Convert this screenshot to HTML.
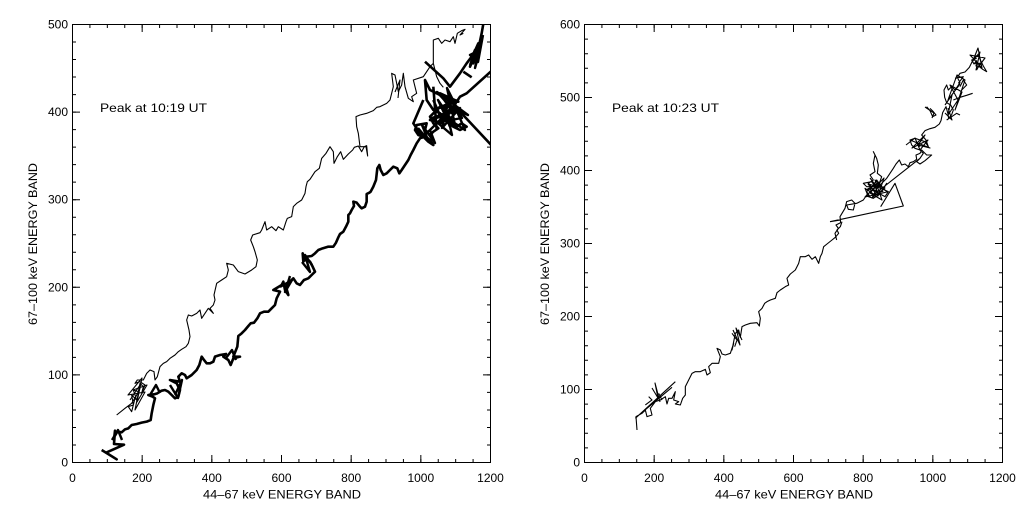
<!DOCTYPE html>
<html><head><meta charset="utf-8"><style>
html,body{margin:0;padding:0;background:#fff;}
svg{display:block;}
text{font-family:"Liberation Sans",sans-serif;font-size:12px;fill:#000;}
</style></head><body>
<svg width="1024" height="512" viewBox="0 0 1024 512" xmlns="http://www.w3.org/2000/svg">
<rect width="1024" height="512" fill="#fff"/>
<defs>
<clipPath id="cl"><rect x="72" y="24" width="419" height="439"/></clipPath>
<clipPath id="cr"><rect x="584" y="24" width="419" height="439"/></clipPath>
</defs>

<!-- LEFT PANEL AXES -->
<g stroke="#000" fill="none">
<rect x="72.5" y="24.5" width="418" height="438" stroke-width="1"/>
<line x1="72" y1="461" x2="491" y2="461" stroke-width="4" stroke-dasharray="1 16.4167"/>
<line x1="72" y1="459" x2="491" y2="459" stroke-width="8" stroke-dasharray="1 68.667"/>
<line x1="72" y1="26" x2="491" y2="26" stroke-width="4" stroke-dasharray="1 16.4167"/>
<line x1="72" y1="28" x2="491" y2="28" stroke-width="8" stroke-dasharray="1 68.667"/>
<line x1="74" y1="463" x2="74" y2="24" stroke-width="4" stroke-dasharray="1 16.52"/>
<line x1="76" y1="463" x2="76" y2="24" stroke-width="8" stroke-dasharray="1 86.6"/>
<line x1="489" y1="463" x2="489" y2="24" stroke-width="4" stroke-dasharray="1 16.52"/>
<line x1="487" y1="463" x2="487" y2="24" stroke-width="8" stroke-dasharray="1 86.6"/>
</g>
<g text-anchor="middle">
<text x="72.5" y="482">0</text>
<text x="142.2" y="482">200</text>
<text x="211.8" y="482">400</text>
<text x="281.5" y="482">600</text>
<text x="351.2" y="482">800</text>
<text x="420.8" y="482">1000</text>
<text x="490.5" y="482">1200</text>
</g>
<g text-anchor="end">
<text x="68" y="466.5">0</text>
<text x="68" y="378.9">100</text>
<text x="68" y="291.3">200</text>
<text x="68" y="203.7">300</text>
<text x="68" y="116.1">400</text>
<text x="68" y="28.5">500</text>
</g>
<text x="203" y="498.5" textLength="158" lengthAdjust="spacingAndGlyphs">44–67 keV ENERGY BAND</text>
<text transform="translate(37,244) rotate(-90)" text-anchor="middle" textLength="162" lengthAdjust="spacingAndGlyphs">67–100 keV ENERGY BAND</text>
<text x="100" y="112" textLength="107" lengthAdjust="spacingAndGlyphs">Peak at 10:19 UT</text>

<!-- LEFT PANEL DATA -->
<g clip-path="url(#cl)" fill="none" stroke="#000">
<g transform="scale(0.33333)">
<path vector-effect="non-scaling-stroke" stroke-width="1.1" stroke-linejoin="round" d="M350,1245 L375,1225 L395,1210 L410,1185 L420,1165 L405,1195 L395,1235 L385,1220 L400,1215 L395,1185 L410,1200 L400,1170 L415,1175 L420,1150 L430,1160 L425,1180 L435,1155 L420,1145 L405,1150 L412,1140 L430,1140 L440,1120 L450,1110 L462,1115 L465,1140 L472,1130 L480,1100 L490,1090 L500,1085 L510,1075 L525,1065 L535,1055 L545,1048 L558,1040 L565,1030 L570,1010 L567,990 L560,960 L565,945 L575,948 L590,940 L600,930 L605,955 L615,940 L625,925 L640,940 L630,925 L640,915 L645,900 L642,885 L650,850 L665,840 L680,830 L685,810 L680,790 L700,795 L715,815 L735,822 L755,810 L768,800 L772,780 L765,755 L760,740 L752,720 L758,705 L780,698 L785,690 L795,665 L800,690 L815,680 L828,692 L835,680 L850,690 L858,665 L862,655 L875,650 L880,620 L890,610 L905,600 L915,580 L918,560 L922,545 L930,538 L945,515 L958,505 L965,475 L978,460 L990,440 L1000,455 L1002,490 L1012,470 L1022,455 L1030,478 L1045,462 L1058,450 L1063,442 L1075,438 L1085,455 L1093,440 L1100,437 L1103,468 L1098,440 L1080,440 L1075,400 L1070,380 L1068,350 L1080,345 L1100,340 L1120,332 L1130,322 L1140,320 L1160,310 L1170,300 L1180,260 L1175,220 L1185,225 L1195,275 L1205,255 L1210,220 L1215,260 L1225,295 L1240,305 L1235,290 L1250,280 L1240,240 L1270,230 L1290,200 L1300,190 L1300,120 L1315,115 L1325,130 L1335,120 L1350,125 L1360,110 L1365,130 L1372,100 L1385,92 L1395,88 L1380,105 L1390,100 M1300,190 L1310,230 L1320,250 L1330,262"/>
<path vector-effect="non-scaling-stroke" stroke-width="2.6" stroke-linejoin="round" d="M305,1350 L350,1378 L318,1358 L372,1334 L342,1332 L345,1292 L343,1310 L352,1295 L365,1297 L375,1288 L385,1285 L395,1275 L410,1272 L425,1268 L440,1265 L452,1260 L455,1240 L460,1215 L465,1195 L458,1190 L445,1185 L462,1183 L472,1180 L485,1172 L495,1170 L505,1175 L515,1185 L525,1195 L535,1190 L540,1170 L530,1150 L510,1140 L540,1145 L535,1130 L545,1120 L555,1125 L560,1135 L575,1125 L590,1110 L598,1095 L605,1070 L612,1080 L620,1090 L630,1090 L640,1085 L645,1070 L660,1065 L678,1062 L670,1070 L685,1080 L692,1095 L700,1075 L720,1070 L700,1070 L712,1040 L715,1008 L725,1000 L735,990 L745,978 L752,970 L762,968 L772,955 L780,940 L792,935 L805,935 L815,925 L825,915 L830,895 L840,875 L820,870 L845,855 L850,845 L855,870 L865,885 L858,860 L870,845 L880,835 L890,850 L900,855 L912,840 L925,835 L935,825 L945,815 L938,800 L930,785 L915,780 L908,760 L910,785 L920,770 L935,768 L945,760 L955,750 L968,745 L985,740 L1000,740 L1008,728 L1015,712 L1020,702 L1030,695 L1038,680 L1045,665 L1045,645 L1050,640 L1055,630 L1062,618 L1060,605 L1070,608 L1080,620 L1085,625 L1095,620 L1100,605 L1100,582 L1108,578 L1112,575 L1120,560 L1128,540 L1132,505 L1138,495 L1142,510 L1150,525 L1160,520 L1170,510 L1180,500 L1192,505 L1198,520 L1205,510 L1215,495 L1225,480 L1232,465 L1240,450 L1250,430 L1260,415 L1275,408 L1290,420 L1300,435 L1285,425 L1270,410 L1255,405 L1245,390 L1250,375 L1280,370 L1275,390 L1290,405 L1300,395 L1315,385 L1300,370 L1290,350 L1305,335 L1320,320 L1340,315 L1350,300 L1310,280 L1290,270 L1275,240 L1280,300 L1300,330 L1320,340 L1340,365 L1360,380 L1380,390 L1400,380 L1385,370 L1370,380 L1345,360 L1330,345 L1360,320 L1380,290 L1400,280 L1480,208 M1380,335 L1480,442 M1275,185 L1330,235 L1350,260 L1380,220 L1400,190 L1415,170 L1430,155 L1410,200 L1425,150 L1415,175 L1435,130 L1420,190 L1440,140 L1430,170 L1445,100 L1452,60 M1300,260 L1310,390 M1270,300 L1240,370 L1270,415 M1340,300 L1375,305 L1320,280 L1360,340 L1330,330 L1350,380 M1390,215 L1415,232 M1300,300 L1330,370 L1290,360 L1350,340"/>
</g>
<!-- extra scribbles (orig coords) -->
<path stroke-width="1.1" stroke-linejoin="round" d="M130,400 L140,385 L135,410 L145,392 L128,395 L142,378 L137,402 L147,385 L133,390 M395,92 L400,80 L398,98"/>
<path stroke-width="2.4" stroke-linejoin="round" d="M430,130 L445,115 L438,100 L455,125 L447,88 L462,118 L440,122 L458,100 L435,110 L465,130 L450,95 L442,128 L460,108 L432,118 L452,135 L445,105 L468,115 L437,92 L455,112 M470,65 L478,45 L473,60 L481,40 L475,68 L480,50 L470,55 L478,62 L483,35 M418,128 L428,140 L422,125 L435,143 L430,130 L420,138 M175,395 L182,380 L178,398 L170,385 M280,287 L292,280 L285,292 L290,276 M302,262 L310,272 L305,255 L312,265 M112,440 L118,430 L122,440 M150,395 L156,385 L160,393 M226,358 L232,350 L236,360"/>
</g>

<!-- RIGHT PANEL AXES -->
<g stroke="#000" fill="none">
<rect x="584.5" y="24.5" width="418" height="438" stroke-width="1"/>
<line x1="584" y1="461" x2="1003" y2="461" stroke-width="4" stroke-dasharray="1 16.4167"/>
<line x1="584" y1="459" x2="1003" y2="459" stroke-width="8" stroke-dasharray="1 68.667"/>
<line x1="584" y1="26" x2="1003" y2="26" stroke-width="4" stroke-dasharray="1 16.4167"/>
<line x1="584" y1="28" x2="1003" y2="28" stroke-width="8" stroke-dasharray="1 68.667"/>
<line x1="586" y1="463" x2="586" y2="24" stroke-width="4" stroke-dasharray="1 13.6"/>
<line x1="588" y1="463" x2="588" y2="24" stroke-width="8" stroke-dasharray="1 72"/>
<line x1="1001" y1="463" x2="1001" y2="24" stroke-width="4" stroke-dasharray="1 13.6"/>
<line x1="999" y1="463" x2="999" y2="24" stroke-width="8" stroke-dasharray="1 72"/>
</g>
<g text-anchor="middle">
<text x="584.5" y="482">0</text>
<text x="654.2" y="482">200</text>
<text x="723.8" y="482">400</text>
<text x="793.5" y="482">600</text>
<text x="863.2" y="482">800</text>
<text x="932.8" y="482">1000</text>
<text x="1002.5" y="482">1200</text>
</g>
<g text-anchor="end">
<text x="580" y="466.5">0</text>
<text x="580" y="393.5">100</text>
<text x="580" y="320.5">200</text>
<text x="580" y="247.5">300</text>
<text x="580" y="174.5">400</text>
<text x="580" y="101.5">500</text>
<text x="580" y="28.5">600</text>
</g>
<text x="715" y="498.5" textLength="158" lengthAdjust="spacingAndGlyphs">44–67 keV ENERGY BAND</text>
<text transform="translate(549,244) rotate(-90)" text-anchor="middle" textLength="162" lengthAdjust="spacingAndGlyphs">67–100 keV ENERGY BAND</text>
<text x="612" y="112" textLength="107" lengthAdjust="spacingAndGlyphs">Peak at 10:23 UT</text>

<!-- RIGHT PANEL DATA -->
<g clip-path="url(#cr)" fill="none" stroke="#000">
<g transform="translate(512,0) scale(0.33333)">
<path vector-effect="non-scaling-stroke" stroke-width="1.1" stroke-linejoin="round" d="M375,1290 L372,1250 L390,1240 L400,1230 L405,1250 L420,1245 L415,1225 L430,1205 L445,1200 L460,1190 L465,1212 L470,1195 L480,1195 L490,1175 L485,1200 L500,1205 L490,1212 L505,1215 L512,1195 L520,1185 L520,1160 L530,1140 L540,1120 L550,1115 L565,1115 L580,1108 L585,1125 L595,1118 L590,1100 L600,1090 L620,1090 L625,1070 L615,1045 L625,1050 L630,1062 L640,1065 L655,1060 L665,1030 L660,1050 L670,1000 L680,990 L685,1012 L690,980 L700,975 L715,970 L735,968 L742,978 L745,955 L740,935 L750,925 L758,910 L765,905 L775,900 L790,895 L795,878 L805,870 L820,860 L830,855 L825,835 L835,822 L850,810 L860,790 L865,770 L880,770 L890,765 L900,778 L910,770 L920,790 L925,770 L930,760 L935,740 L945,732 L960,720 L970,712 L980,700 L975,690 L985,680 L990,665 M370,1255 L490,1145 M375,1250 L480,1162 M400,1215 L420,1200 L410,1190 M440,1180 L450,1200 M660,1000 L675,1020 L668,1040"/>
</g>
<g transform="translate(820,40) scale(0.33333)">
<path vector-effect="non-scaling-stroke" stroke-width="1.1" stroke-linejoin="round" d="M50,600 L45,580 L55,565 L48,555 L62,548 L60,530 L75,505 L80,485 L95,480 L105,490 L100,510 L85,508 L80,495 L110,490 L130,480 L140,465 L150,470 L140,455 L155,440 L145,430 L160,420 L150,405 L165,395 L160,370 L165,345 L160,335 L170,355 L175,375 L172,400 L185,410 L178,430 L190,445 L200,430 L185,455 L165,465 L150,455 L135,445 L145,470 L160,475 L180,462 L195,470 L205,455 L170,440 L140,440 L130,430 L155,425 L170,445 L200,415 L210,400 L220,385 L228,372 L238,360 L245,375 L255,372 L265,380 L270,368 L280,365 L290,358 L288,345 L300,340 L305,330 L320,345 L335,345 L315,362 L300,372 L290,365 L300,355 L310,340 L300,330 L285,325 L275,315 L270,300 L285,295 L300,300 L315,305 L325,320 L318,300 L305,285 L315,272 L330,266 L345,262 L358,252 L363,242 L368,218 L378,200 L384,222 L386,236 L395,224 L400,210 L392,195 L380,188 L374,172 L372,150 L380,135 L385,150 L395,140 L405,150 L412,140 L420,128 L412,112 L420,100 L435,96 L448,82 L458,62 L465,50 L475,45 L482,62 L490,78 L500,95 L488,88 L478,80 L468,78 L470,62 L462,72 L455,60 L470,55 M30,545 L250,498 L225,430 L182,500 M30,545 L62,540 M320,200 L330,212 L338,230 L348,225 L340,215 L330,205 M300,320 L290,310 M400,180 L420,172 L440,166 L458,160 M380,240 L395,230 L410,220 L420,225 M160,465 L300,355 M150,440 L175,460 L160,430 L185,440 L170,420 L150,450 L190,455 M420,140 L430,120 L440,135 L425,150 M405,115 L430,110 L415,130 M460,70 L480,70 L470,90"/>
</g>
<!-- extra scribbles (orig coords) -->
<path stroke-width="1.1" stroke-linejoin="round" d="M866,190 L880,182 L872,198 L885,188 L868,184 L878,196 L884,178 L870,193 L882,200 L875,180 L887,192 L865,197 L876,186 L870,178 M906,145 L915,138 L920,150 L928,140 L912,148 L925,135 L918,145 L930,148 L910,140 M945,105 L952,95 L948,115 L958,100 L950,85 L962,92 L955,110 L965,80 L957,75 L948,100 L960,84 M972,62 L980,52 L976,70 L985,58 L970,55 L982,68 L978,48 L974,58 M925,107 L934,113 L932,118 M652,388 L658,398 L655,383 L660,402 M733,330 L740,345 L736,328 L742,340 M945,113 L952,120 L948,108"/>
</g>
</svg>
</body></html>
